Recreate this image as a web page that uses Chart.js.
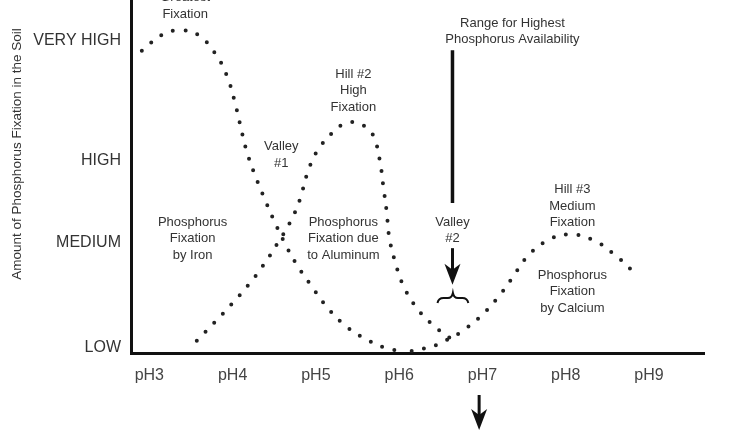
<!DOCTYPE html>
<html>
<head>
<meta charset="utf-8">
<script src="https://cdn.jsdelivr.net/npm/chart.js@4.4.0/dist/chart.umd.min.js"></script>
<style>
  body { margin: 0; background: #fff; }
  #wrap { width: 750px; height: 430px; }
</style>
</head>
<body>
<div id="wrap"><canvas id="soilChart"></canvas></div>
<script>
// Curves: x = soil pH, y = fixation level (0 = axis, 100 = top of plot)
const ironPH = [2.91, 3.15, 3.36, 3.58, 3.79, 3.93, 4.02, 4.09, 4.16, 4.26, 4.37, 4.49, 4.62, 4.77, 4.94, 5.12, 5.33, 5.58, 5.85, 6.07];
const ironLevel = [85.6, 90.1, 91.4, 90.2, 84.9, 78.6, 71.7, 64.8, 57.9, 50.9, 44.5, 37.9, 31.4, 25.0, 19.2, 13.4, 8.2, 4.2, 1.3, 0.6];

const aluminumPH = [3.57, 3.78, 3.99, 4.19, 4.37, 4.54, 4.69, 4.81, 4.89, 5.01, 5.21, 5.33, 5.47, 5.61, 5.70, 5.77, 5.81, 5.85, 5.88, 5.95, 6.05, 6.21, 6.42, 6.66];
const aluminumLevel = [3.5, 8.6, 13.9, 19.3, 24.9, 31.1, 37.0, 43.6, 50.4, 57.0, 62.7, 64.8, 65.4, 63.8, 61.0, 54.2, 47.1, 40.0, 32.9, 25.9, 19.1, 12.8, 7.6, 3.4];

const calciumPH = [6.15, 6.30, 6.45, 6.59, 6.72, 6.95, 7.17, 7.35, 7.52, 7.75, 8.03, 8.33, 8.58, 8.80];
const calciumLevel = [0.6, 1.3, 2.3, 3.9, 5.6, 9.8, 15.3, 21.0, 26.8, 31.5, 33.6, 32.0, 28.0, 23.3];

const xTickValues = [3, 4, 5, 6, 7, 8, 9];
const yTickValues = [1.4, 31.2, 54.4, 88.4];
const yTickLabels = ['LOW', 'MEDIUM', 'HIGH', 'VERY HIGH'];

const FONT = "'Liberation Sans', Arial, Helvetica, sans-serif";

// text notes placed in data coordinates (pH, level of first line)
const notes = [
  { x: 3.43, y: 100.6, lines: ['Greatest', 'Fixation'] },
  { x: 4.585, y: 58.4, lines: ['Valley', '#1'] },
  { x: 5.45, y: 79.0, lines: ['Hill #2', 'High', 'Fixation'] },
  { x: 7.36, y: 93.5, lines: ['Range for Highest', 'Phosphorus Availability'] },
  { x: 6.64, y: 37.1, lines: ['Valley', '#2'] },
  { x: 3.52, y: 37.1, lines: ['Phosphorus', 'Fixation', 'by Iron'] },
  { x: 5.33, y: 37.1, lines: ['Phosphorus', 'Fixation due', 'to Aluminum'] },
  { x: 8.08, y: 46.2, lines: ['Hill #3', 'Medium', 'Fixation'] },
  { x: 8.08, y: 22.1, lines: ['Phosphorus', 'Fixation', 'by Calcium'] }
];

const toPoints = (xs, ys) => xs.map((x, i) => ({ x: x, y: ys[i] }));

function dotted(data) {
  return {
    data: data,
    borderColor: '#222',
    borderWidth: 4,
    borderDash: [0, 12.5],
    borderCapStyle: 'round',
    pointRadius: 0,
    tension: 0.4,
    fill: false,
    clip: false
  };
}

function arrowDown(ctx, x, yTop, yTip) {
  ctx.lineWidth = 3;
  ctx.beginPath();
  ctx.moveTo(x, yTop);
  ctx.lineTo(x, yTip - 12);
  ctx.stroke();
  ctx.beginPath();
  ctx.moveTo(x, yTip);
  ctx.lineTo(x - 8, yTip - 21);
  ctx.lineTo(x, yTip - 15);
  ctx.lineTo(x + 8, yTip - 21);
  ctx.closePath();
  ctx.fill();
}

// the plot fills the canvas top; drop the label padding Chart.js adds
function noPadding(s) {
  s.paddingTop = 0;
  s.paddingBottom = 0;
  s.paddingLeft = 0;
  s.paddingRight = 0;
}

const notesPlugin = {
  id: 'notes',
  afterDraw(chart) {
    const ctx = chart.ctx;
    const xs = chart.scales.x, ys = chart.scales.y;
    ctx.save();
    ctx.fillStyle = '#333';
    ctx.strokeStyle = '#111';
    ctx.textAlign = 'center';
    ctx.textBaseline = 'middle';
    ctx.font = '13px ' + FONT;
    notes.forEach(n => {
      const px = xs.getPixelForValue(n.x);
      const py = ys.getPixelForValue(n.y);
      n.lines.forEach((t, i) => ctx.fillText(t, px, py + i * 16.5));
    });

    // y axis title
    ctx.save();
    ctx.font = '13.5px ' + FONT;
    ctx.translate(17, 154);
    ctx.rotate(-Math.PI / 2);
    ctx.fillText('Amount of Phosphorus Fixation in the Soil', 0, 0);
    ctx.restore();

    ctx.fillStyle = '#111';
    // long line from "Range for Highest..."
    const ax = xs.getPixelForValue(6.64);
    ctx.lineWidth = 3.5;
    ctx.beginPath();
    ctx.moveTo(ax, ys.getPixelForValue(85.8));
    ctx.lineTo(ax, ys.getPixelForValue(42.5));
    ctx.stroke();
    // arrow under "Valley #2"
    arrowDown(ctx, ax, ys.getPixelForValue(29.7), ys.getPixelForValue(19.3));
    // arrow under pH7
    arrowDown(ctx, xs.getPixelForValue(6.96), ys.getPixelForValue(-11.9), ys.getPixelForValue(-21.8));

    // brace
    const bl = xs.getPixelForValue(6.46), br = xs.getPixelForValue(6.83);
    const bm = (bl + br) / 2, by = ys.getPixelForValue(15.6);
    ctx.lineWidth = 2;
    ctx.beginPath();
    ctx.moveTo(bl, by + 5);
    ctx.quadraticCurveTo(bl + 1, by, bl + 6, by);
    ctx.lineTo(bm - 5, by);
    ctx.quadraticCurveTo(bm - 1, by, bm, by - 5);
    ctx.quadraticCurveTo(bm + 1, by, bm + 5, by);
    ctx.lineTo(br - 6, by);
    ctx.quadraticCurveTo(br - 1, by, br, by + 5);
    ctx.stroke();
    ctx.restore();
  }
};

new Chart(document.getElementById('soilChart'), {
  type: 'line',
  data: {
    datasets: [
      dotted(toPoints(ironPH, ironLevel)),
      dotted(toPoints(aluminumPH, aluminumLevel)),
      dotted(toPoints(calciumPH, calciumLevel))
    ]
  },
  options: {
    responsive: true,
    maintainAspectRatio: false,
    animation: false,
    layout: { padding: { top: 0, right: 46, bottom: 0, left: 0 } },
    plugins: { legend: { display: false }, tooltip: { enabled: false } },
    scales: {
      x: {
        type: 'linear',
        min: 2.78,
        max: 9.66,
        afterBuildTicks: s => { s.ticks = xTickValues.map(v => ({ value: v })); },
        afterFit: s => { s.height = 77; noPadding(s); },
        grid: { display: false, drawTicks: false },
        border: { display: true, color: '#111', width: 3 },
        ticks: {
          padding: 13,
          color: '#444',
          font: { family: FONT, size: 16 },
          callback: v => 'pH' + v
        }
      },
      y: {
        type: 'linear',
        min: 0,
        max: 100,
        afterBuildTicks: s => { s.ticks = yTickValues.map(v => ({ value: v })); },
        afterFit: s => { s.width = 131; noPadding(s); },
        grid: { display: false, drawTicks: false },
        border: { display: true, color: '#111', width: 3 },
        ticks: {
          padding: 10,
          color: '#333',
          font: { family: FONT, size: 16 },
          callback: (v) => yTickLabels[yTickValues.indexOf(v)]
        }
      }
    }
  },
  plugins: [notesPlugin]
});
</script>
</body>
</html>
